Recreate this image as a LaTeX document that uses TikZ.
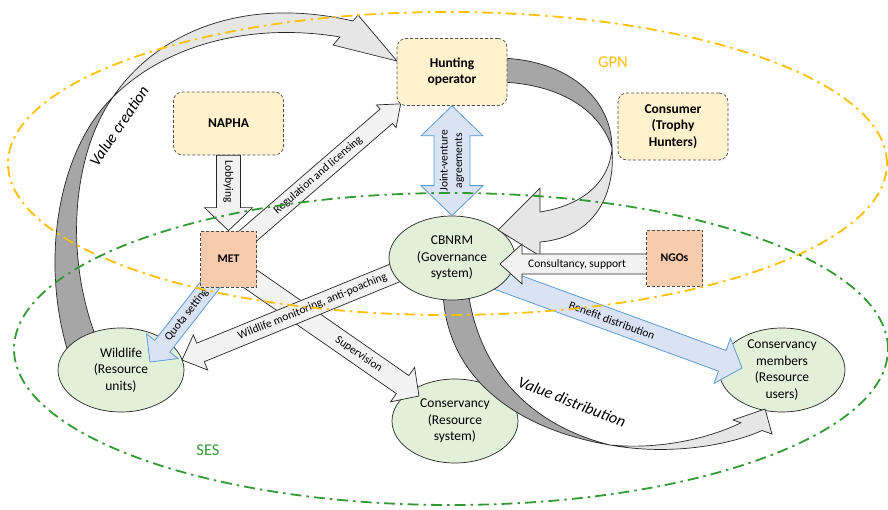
\documentclass[tikz,border=0pt]{standalone}
\usepackage{fontspec}
\setmainfont{Carlito}
\usetikzlibrary{calc,shapes.geometric}
\pgfdeclarelayer{l0}\pgfdeclarelayer{l1}\pgfdeclarelayer{l2}\pgfdeclarelayer{l3}\pgfdeclarelayer{l4}
\pgfsetlayers{l0,l1,l2,l3,l4,main}
\definecolor{cY}{RGB}{255,242,204}
\definecolor{cO}{RGB}{248,203,173}
\definecolor{cG}{RGB}{226,240,217}
\definecolor{cB}{RGB}{218,227,243}
\definecolor{cBl}{RGB}{91,155,213}
\definecolor{cA}{RGB}{242,242,242}
\definecolor{cD}{RGB}{166,166,166}
\definecolor{cL}{RGB}{231,230,230}
\definecolor{cGPN}{RGB}{255,192,0}
\definecolor{cSES}{RGB}{51,153,51}
\tikzset{
 yb/.style={draw=black!70, densely dashed, line width=0.7pt, fill=cY, rounded corners=9pt, minimum width=110pt, minimum height=67pt, inner sep=0pt, align=center, font=\fontsize{13.5}{16.5}\selectfont\bfseries},
 ob/.style={draw=black!70, densely dashed, line width=0.7pt, fill=cO, minimum width=56pt, minimum height=56pt, inner sep=0pt, font=\fontsize{11.7}{14}\selectfont\bfseries},
 ge/.style={ellipse, draw=black!85, line width=0.7pt, fill=cG, minimum width=126pt, minimum height=84pt, inner sep=0pt, align=center, font=\fontsize{13.5}{16.5}\selectfont},
 et/.style={align=center, inner sep=0pt, font=\fontsize{13.5}{16.5}\selectfont},
 garrow/.style={draw=black!85, fill=cA, line width=0.7pt},
 barrow/.style={draw=cBl, fill=cB, line width=0.8pt},
 lbl/.style={inner sep=0pt, font=\fontsize{11.5}{13}\selectfont},
 carrowD/.style={draw=black!85, fill=cD, line width=0.7pt},
 carrowL/.style={draw=black!85, fill=cL, line width=0.7pt},
 vlbl/.style={inner sep=0pt, font=\fontsize{16}{18}\selectfont\itshape},
 gpnline/.style={draw=cGPN, line width=1.8pt, dash pattern=on 11pt off 5pt on 2.5pt off 5pt},
 sesline/.style={draw=cSES, line width=1.8pt, dash pattern=on 11pt off 5pt on 2.5pt off 5pt},
 regionlbl/.style={inner sep=0pt, font=\fontsize{16.5}{19}\selectfont},
}
% style, start, end, shaft half width, head half width, head length
\newcommand\blockarr[6]{%
 \coordinate (bhT) at ($(#3)!#6!(#2)$);
 \draw[#1] ($(#2)!#4!90:(#3)$) -- ($(bhT)!#4!90:(#3)$) -- ($(bhT)!#5!90:(#3)$) -- (#3)
   -- ($(bhT)!#5!-90:(#3)$) -- ($(bhT)!#4!-90:(#3)$) -- ($(#2)!#4!-90:(#3)$) -- cycle;
}
\newcommand\dblarr[6]{%
 \coordinate (dhA) at ($(#2)!#6!(#3)$);
 \coordinate (dhB) at ($(#3)!#6!(#2)$);
 \draw[#1] (#2) -- ($(dhA)!#5!90:(#3)$) -- ($(dhA)!#4!90:(#3)$) -- ($(dhB)!#4!-90:(#2)$)
   -- ($(dhB)!#5!-90:(#2)$) -- (#3) -- ($(dhB)!#5!90:(#2)$) -- ($(dhB)!#4!90:(#2)$)
   -- ($(dhA)!#4!-90:(#3)$) -- ($(dhA)!#5!-90:(#3)$) -- cycle;
}
\begin{document}
\begin{tikzpicture}[x=1pt,y=-1pt]
\useasboundingbox (0,0) rectangle (888,510);
% ---------- nodes ----------
\begin{pgfonlayer}{l1}
\node[ge] (wild) at (121,370) {Wildlife\\(Resource\\units)};
\node[ge] (cons) at (455,421) {Conservancy\\(Resource\\system)};
\node[ge] (members) at (782,370) {};
\node[et] (membersT) at (members.center) {Conservancy\\members\\(Resource\\users)};
\end{pgfonlayer}
\begin{pgfonlayer}{l3}
\node[ge] (cbnrm) at (452,258) {CBNRM\\(Governance\\system)};
\end{pgfonlayer}
\node[yb] (hunt) at (452,72) {Hunting\\operator};
\node[yb, minimum height=63pt] (napha) at (228.5,123.5) {NAPHA};
\node[yb] (consumer) at (673,126.5) {Consumer\\(Trophy\\Hunters)};
\node[ob] (met) at (228.5,259) {MET};
\node[ob] (ngos) at (674.5,258) {NGOs};
% ---------- end points ----------
\coordinate (regA) at ($(met.north east)+(-12,8)$);
\coordinate (regB) at ($(hunt.south west)+(4,-2)$);
\coordinate (supA) at ($(met.south east)+(-10,-11)$);
\coordinate (supB) at ($(cons.center)+(-36,-25)$);
\coordinate (monA) at ($(cbnrm.center)+(-45,10)$);
\coordinate (monB) at ($(wild.center)+(61,-10)$);
\coordinate (quoA) at ($(met.south)+(-14,-8)$);
\coordinate (quoB) at ($(wild.center)+(29,-8)$);
\coordinate (conA) at ($(ngos.west)+(5,6)$);
\coordinate (conB) at ($(cbnrm.center)+(48,6)$);
\coordinate (benA) at ($(cbnrm.center)+(30,15)$);
\coordinate (benB) at ($(members.center)+(-40,-2)$);
% ---------- value creation ----------
\begin{pgfonlayer}{l0}
\draw[carrowD] (68,352) .. controls (40,260) and (58,150) .. (113,97)
  .. controls (75,150) and (62,250) .. (97,340) -- cycle;
\draw[carrowL] (113,97) .. controls (155,35) and (240,-5) .. (353,21) -- (358,15) -- (397,61)
  -- (333,45) -- (340,37) .. controls (250,22) and (165,45) .. (113,97) -- cycle;
\end{pgfonlayer}
% ---------- arrows under CBNRM / MET ----------
\begin{pgfonlayer}{l2}
\draw[carrowD] (443,290) .. controls (445,380) and (520,430) .. (610,445)
  .. controls (530,425) and (478,370) .. (468,290) -- cycle;
\draw[carrowL] (610,445) .. controls (670,456) and (730,445) .. (762,430.5) -- (772,434) -- (765,409)
  -- (733,420) -- (740.8,422.8) .. controls (710,438) and (660,450) .. (610,445) -- cycle;
\blockarr{barrow}{benA}{benB}{11pt}{24pt}{21pt}
\path (benA) -- (benB) node[lbl, sloped, pos=0.5] (benT) {Benefit distribution};
\blockarr{garrow}{supA}{supB}{11pt}{21pt}{20pt}
\path (supA) -- (supB) node[lbl, sloped, pos=0.65] (supT) {Supervision};
\blockarr{garrow}{monA}{monB}{10pt}{19pt}{20pt}
\path (monA) -- (monB) node[lbl, sloped, pos=0.42] (monT) {Wildlife monitoring, anti-poaching};
\blockarr{garrow}{regA}{regB}{9.5pt}{15pt}{19pt}
\path (regA) -- (regB) node[lbl, sloped, pos=0.47] (regT) {Regulation and licensing};
\blockarr{barrow}{quoA}{quoB}{9.5pt}{20pt}{20pt}
\path (quoA) -- (quoB) node[lbl, sloped, pos=0.43] (quoT) {Quota setting};
\end{pgfonlayer}
% ---------- arrows over CBNRM ----------
\begin{pgfonlayer}{l4}
\draw[carrowD] (500,58) .. controls (570,60) and (612,100) .. (612,148)
  .. controls (600,110) and (560,84) .. (500,82) -- cycle;
\draw[carrowL] (612,148) .. controls (616,200) and (590,238) .. (540,242) -- (540,256) -- (498,230)
  -- (540,188) -- (540,212) .. controls (585,205) and (610,180) .. (612,148) -- cycle;
\blockarr{garrow}{conA}{conB}{10pt}{20pt}{22pt}
\path (conA) -- (conB) node[lbl, sloped, pos=0.49] (conT) {Consultancy, support};
\end{pgfonlayer}
% ---------- arrows on top ----------
\blockarr{garrow}{napha.south}{met.north}{12pt}{24pt}{23pt}
\node[lbl, rotate=-90] (lobT) at ($(napha.south)!0.35!(met.north)$) {Lobbying};
\dblarr{barrow}{hunt.south}{cbnrm.north}{18pt}{31pt}{30pt}
\node[lbl, rotate=90, align=center, font=\fontsize{11.5}{14.5}\selectfont] (jvT)
  at ($(hunt.south)!0.5!(cbnrm.north)$) {Joint-venture\\agreements};
% ---------- value labels ----------
\node[vlbl, rotate=56] (vcT) at (119,126) {Value creation};
\node[vlbl, rotate=-21] (vdT) at (572,402) {Value distribution};
% ---------- GPN / SES ----------
\draw[gpnline] (447.5,163.5) ellipse [x radius=439.5pt, y radius=151.5pt];
\draw[sesline] (451,349) ellipse [x radius=437pt, y radius=156pt];
\node[regionlbl, text=cGPN] (gpnT) at (613,62) {GPN};
\node[regionlbl, text=cSES] (sesT) at (208,450) {SES};
\end{tikzpicture}
\end{document}
